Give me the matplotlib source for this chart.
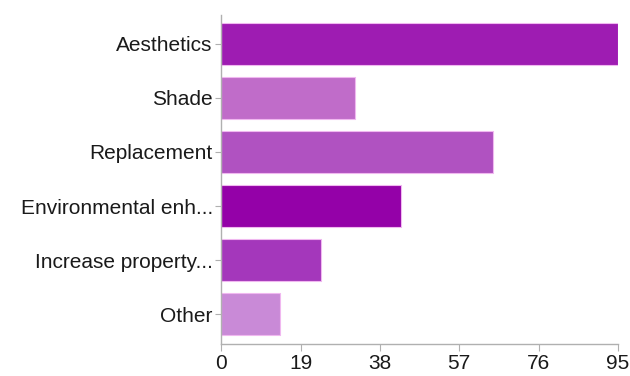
import matplotlib
matplotlib.use("Agg")
import matplotlib.pyplot as plt

categories = ["Aesthetics", "Shade", "Replacement", "Environmental enh...",
              "Increase property...", "Other"]
counts = [95, 32, 65, 43, 24, 14]
bar_colors = ["#9e1cb2", "#c06cc9", "#b052c1", "#9401a8", "#a437bb", "#c98ad7"]
x_ticks = [0, 19, 38, 57, 76, 95]

plt.rcParams["font.family"] = ["Liberation Sans", "DejaVu Sans"]

fig = plt.figure(figsize=(6.3, 3.76), dpi=100)
ax = fig.add_axes([0.351, 0.085, 0.630, 0.875])

pos = list(range(len(categories)))
ax.barh(pos, counts, height=0.78, color=bar_colors,
        edgecolor="#f0b8f0", linewidth=0.8)

ax.set_ylim(len(categories) - 0.45, -0.53)
ax.set_xlim(0, 95)
ax.set_yticks(pos)
ax.set_yticklabels(categories, fontsize=15, color="#1a1a1a")
ax.set_xticks(x_ticks)
ax.set_xticklabels([str(t) for t in x_ticks], fontsize=15, color="#1a1a1a")

for side in ["top", "right"]:
    ax.spines[side].set_visible(False)
for side in ["left", "bottom"]:
    ax.spines[side].set_color("#b0b0b0")
    ax.spines[side].set_linewidth(1.0)
ax.tick_params(axis="y", length=4, color="#b0b0b0", pad=2)
ax.tick_params(axis="x", length=5, color="#b0b0b0", pad=2)

fig.savefig("out.png", dpi=100)
